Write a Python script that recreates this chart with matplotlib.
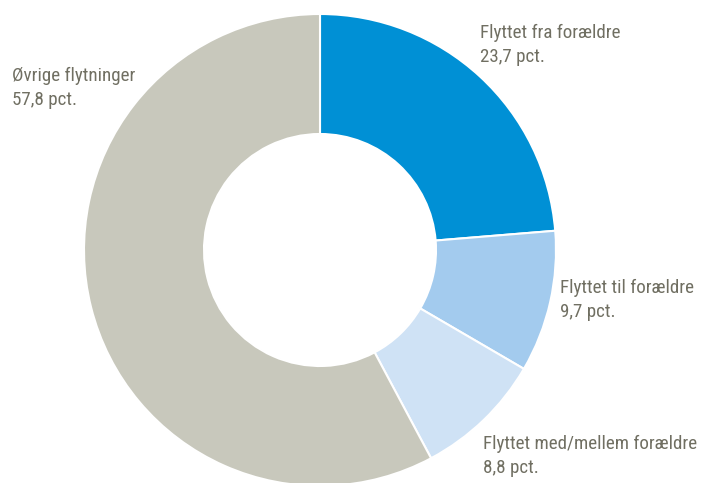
import matplotlib.pyplot as plt
from matplotlib import font_manager

labels = ['Flyttet fra forældre', 'Flyttet til forældre',
          'Flyttet med/mellem forældre', 'Øvrige flytninger']
values = [23.7, 9.7, 8.8, 57.8]
colors = ['#0090D5', '#A3CBEE', '#CFE2F5', '#C8C8BC']

names = {f.name for f in font_manager.fontManager.ttflist}
prefer = ['Liberation Sans Narrow', 'Arial Narrow', 'Roboto Condensed',
          'PT Sans Narrow', 'Archivo Narrow', 'Sofia Sans Semi Condensed',
          'Liberation Sans']
family = [f for f in prefer if f in names][:1] + ['DejaVu Sans']
plt.rcParams['font.family'] = family

W, H = 702, 483
fig = plt.figure(figsize=(W / 100, H / 100), dpi=100)
ax = fig.add_axes([0, 0, 1, 1])

ax.pie(values, colors=colors, startangle=90, counterclock=False,
       center=(320, H - 250), radius=236, frame=True,
       wedgeprops=dict(width=120, edgecolor='white', linewidth=1.5))
ax.set_xlim(0, W)
ax.set_ylim(0, H)
ax.set_aspect('equal')
ax.axis('off')

# size the font so the longest label fits as in the reference (~214 px)
r = fig.canvas.get_renderer()
probe = ax.text(0, 0, labels[2], fontsize=15.5)
w = probe.get_window_extent(r).width
probe.remove()
fs = 15.5 * 214 / w

# label positions (top-left corner, pixels from top)
pos = [(480, 24), (560, 279), (483, 435), (12, 67)]
for lab, v, (x, y) in zip(labels, values, pos):
    txt = f'{lab}\n{v:.1f}'.replace('.', ',') + ' pct.'
    ax.text(x, H - y, txt, ha='left', va='top', fontsize=fs,
            color='#706F62', linespacing=1.42)

fig.savefig('out.png', dpi=100)
